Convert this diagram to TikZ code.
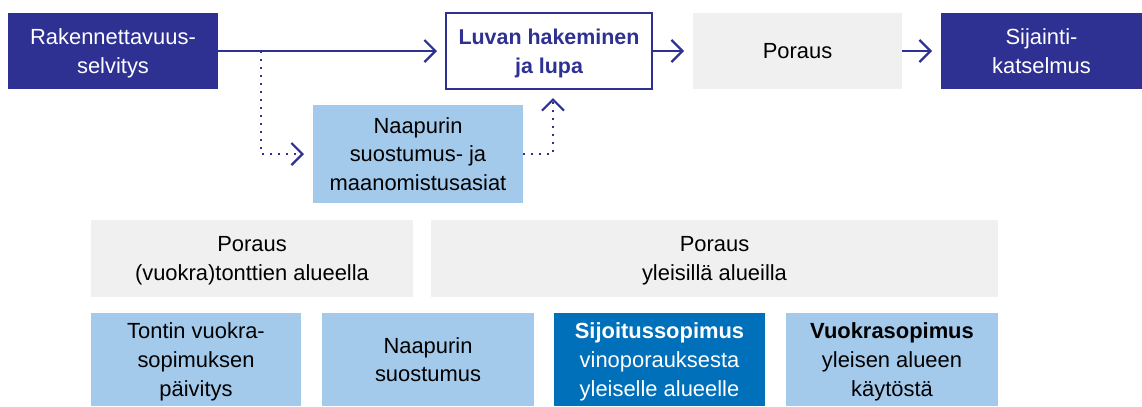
\documentclass[tikz,border=0pt]{standalone}
\usepackage{fontspec}
\setmainfont{Liberation Sans}
\usetikzlibrary{arrows.meta}
\definecolor{navy}{RGB}{46,49,146}
\definecolor{lightblue}{RGB}{163,201,235}
\definecolor{midblue}{RGB}{0,112,186}
\definecolor{lightgray}{RGB}{240,240,240}
\begin{document}
\begin{tikzpicture}[x=1bp,y=-1bp,
  box/.style={rectangle,inner sep=0pt,outer sep=0pt,align=center,
    font=\fontsize{22}{29}\selectfont,text depth=0pt},
  darkbox/.style={box,fill=navy,text=white},
  outbox/.style={box,draw=navy,line width=2.5bp,text=navy,font=\fontsize{21.5}{29}\selectfont\bfseries},
  graybox/.style={box,fill=lightgray,text=black},
  lbbox/.style={box,fill=lightblue,text=black},
  mbbox/.style={box,fill=midblue,text=white},
  conn/.style={draw=navy,line width=2.2bp,-{Straight Barb[length=11bp,width=22bp,line width=2.2bp]},shorten >=9bp},
  dotconn/.style={conn,dash pattern=on 2bp off 6bp},
]
\useasboundingbox (0,0) rectangle (1142,406);
\node[darkbox,minimum width=210bp,minimum height=76bp] (rak) at (113,51) {Rakennettavuus-\\selvitys};
\node[outbox,minimum width=206bp,minimum height=76bp] (luvan) at (549,51) {Luvan hakeminen\\ja lupa};
\node[graybox,minimum width=209bp,minimum height=76bp] (poraus) at (797.5,51) {Poraus};
\node[darkbox,minimum width=201bp,minimum height=76bp] (sij) at (1041.5,51) {Sijainti-\\katselmus};
\node[lbbox,minimum width=210bp,minimum height=98bp] (naap) at (418,154) {Naapurin\\suostumus- ja\\maanomistusasiat};
\node[graybox,minimum width=322bp,minimum height=77bp] (g1) at (252,258.5) {Poraus\\(vuokra)tonttien alueella};
\node[graybox,minimum width=567bp,minimum height=77bp] (g2) at (714.5,258.5) {Poraus\\yleisillä alueilla};
\node[lbbox,minimum width=210bp,minimum height=93bp] (b1) at (196,359.5) {Tontin vuokra-\\sopimuksen\\päivitys};
\node[lbbox,minimum width=212bp,minimum height=93bp] (b2) at (428,359.5) {Naapurin\\suostumus};
\node[mbbox,minimum width=211bp,minimum height=93bp] (b3) at (659.5,359.5) {\textbf{Sijoitussopimus}\\vinoporauksesta\\yleiselle alueelle};
\node[lbbox,minimum width=212bp,minimum height=93bp] (b4) at (892,359.5) {\textbf{Vuokrasopimus}\\yleisen alueen\\käytöstä};
\coordinate (split) at (261,51);
\coordinate (c1) at (261,154);
\coordinate (c2) at (553,154);
\draw[conn] (rak.east) -- (luvan.west);
\draw[conn] (luvan.east) -- (poraus.west);
\draw[conn] (poraus.east) -- (sij.west);
\draw[dotconn] (split) -- (c1) -- (naap.west);
\draw[dotconn] (naap.east) -- (c2) -- (c2 |- luvan.south);
\end{tikzpicture}
\end{document}
